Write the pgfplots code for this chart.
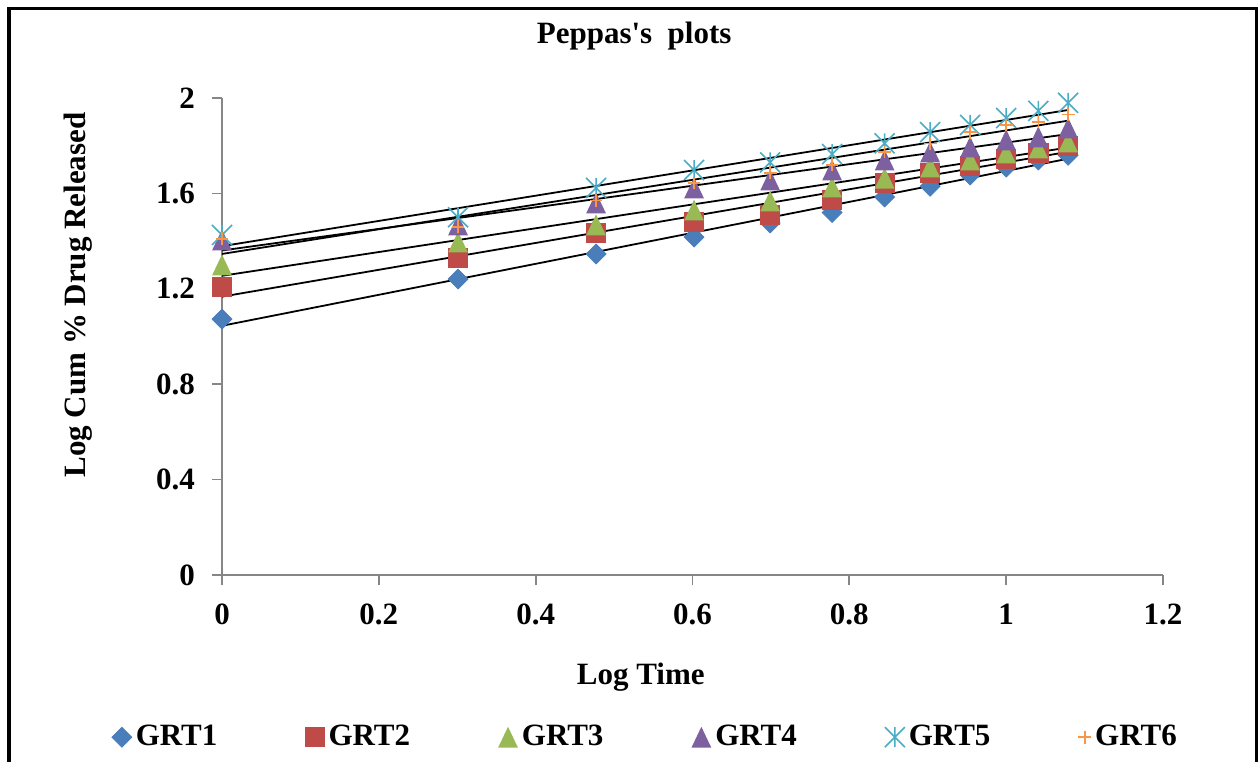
\documentclass[border=0pt]{standalone}
\usepackage{pgfplots}
\pgfplotsset{compat=1.18}
\usepackage{pgfplotstable}
\usepackage{fontspec}
\setmainfont{Liberation Serif}

\definecolor{c1}{HTML}{4A7EBB}
\definecolor{c2}{HTML}{BE4B48}
\definecolor{c3}{HTML}{98B954}
\definecolor{c4}{HTML}{7D60A0}
\definecolor{c5}{HTML}{4BACC6}
\definecolor{c6}{HTML}{F79646}
\definecolor{axgray}{HTML}{868686}

\pgfdeclareplotmark{xltri}{%
  \pgfpathmoveto{\pgfqpoint{0pt}{\pgfplotmarksize}}%
  \pgfpathlineto{\pgfqpoint{-0.95\pgfplotmarksize}{-\pgfplotmarksize}}%
  \pgfpathlineto{\pgfqpoint{0.95\pgfplotmarksize}{-\pgfplotmarksize}}%
  \pgfpathclose\pgfusepathqfill}
\pgfdeclareplotmark{xlstar}{%
  \pgfpathmoveto{\pgfqpoint{0pt}{\pgfplotmarksize}}%
  \pgfpathlineto{\pgfqpoint{0pt}{-\pgfplotmarksize}}%
  \pgfpathmoveto{\pgfqpoint{-\pgfplotmarksize}{\pgfplotmarksize}}%
  \pgfpathlineto{\pgfqpoint{\pgfplotmarksize}{-\pgfplotmarksize}}%
  \pgfpathmoveto{\pgfqpoint{-\pgfplotmarksize}{-\pgfplotmarksize}}%
  \pgfpathlineto{\pgfqpoint{\pgfplotmarksize}{\pgfplotmarksize}}%
  \pgfusepathqstroke}

\pgfplotstableread{
x g1 g2 g3 g4 g5 g6
0     1.073 1.207 1.300 1.405 1.426 1.410
0.301 1.241 1.329 1.396 1.468 1.500 1.460
0.477 1.346 1.434 1.468 1.560 1.623 1.570
0.602 1.417 1.480 1.530 1.623 1.698 1.644
0.699 1.476 1.510 1.568 1.656 1.730 1.686
0.778 1.520 1.572 1.627 1.698 1.765 1.720
0.845 1.585 1.644 1.664 1.740 1.810 1.774
0.903 1.630 1.686 1.711 1.774 1.857 1.810
0.954 1.677 1.715 1.740 1.795 1.887 1.857
1.000 1.710 1.744 1.769 1.824 1.916 1.887
1.041 1.740 1.770 1.790 1.837 1.946 1.900
1.079 1.760 1.799 1.816 1.874 1.980 1.930
}\data

\begin{document}
\begin{tikzpicture}[x=1pt,y=1pt]
\useasboundingbox (0,0) rectangle (629,381);
\fill[white] (0,0) rectangle (629,381);
\draw[line width=1.8pt] (4.5,0) -- (4.5,376.8) -- (628.6,376.8) -- (628.6,0);
\begin{axis}[
  at={(111pt,93.5pt)}, anchor=south west,
  scale only axis, width=470.5pt, height=238.5pt,
  xmin=0, xmax=1.2, ymin=0, ymax=2,
  xtick={0,0.2,0.4,0.6,0.8,1,1.2},
  ytick={0,0.4,0.8,1.2,1.6,2},
  axis x line*=bottom, axis y line*=left,
  axis line style={draw=axgray, line width=0.85pt, -},
  tick style={draw=axgray, line width=0.85pt},
  tick align=outside, major tick length=5pt,
  /pgf/number format/assume math mode=true,
  ticklabel style={font=\fontsize{15.5}{18}\selectfont\bfseries},
  xticklabel style={yshift=-6pt},
  yticklabel style={xshift=-5pt},
  title={Peppas\textquotesingle s\ \ plots},
  title style={font=\fontsize{15.5}{18}\selectfont\bfseries, at={(axis description cs:0.438,1.105)}, anchor=center},
  xlabel={Log Time},
  xlabel style={font=\fontsize{15.5}{18}\selectfont\bfseries, at={(axis description cs:0.445,-0.214)}, anchor=center},
  ylabel={Log Cum \% Drug Released},
  ylabel style={font=\fontsize{15.5}{18}\selectfont\bfseries, at={(axis description cs:-0.153,0.587)}, anchor=center},
  legend columns=6,
  legend style={draw=none, fill=none, at={(axis description cs:0.451,-0.34)}, anchor=center,
    font=\fontsize{15.5}{18}\selectfont\bfseries,
    /tikz/every even column/.append style={column sep=42pt},
    /tikz/every odd column/.append style={column sep=0pt}},
  legend image code/.code={\draw[#1] plot coordinates {(0.25cm,0cm)};},
]
\addplot[only marks, mark=square*, mark size=3.5pt, mark options={rotate=45, fill=c1, draw=c1}] table[x=x,y=g1] {\data};
\addlegendentry{GRT1}
\addplot[only marks, mark=square*, mark size=4.8pt, mark options={fill=c2, draw=c2}] table[x=x,y=g2] {\data};
\addlegendentry{GRT2}
\addplot[only marks, mark=xltri, mark size=5.2pt, mark options={fill=c3, draw=c3}] table[x=x,y=g3] {\data};
\addlegendentry{GRT3}
\addplot[only marks, mark=xltri, mark size=5.2pt, mark options={fill=c4, draw=c4}] table[x=x,y=g4] {\data};
\addlegendentry{GRT4}
\addplot[only marks, mark=xlstar, mark size=5pt, mark options={draw=c5, line width=0.8pt}] table[x=x,y=g5] {\data};
\addlegendentry{GRT5}
\addplot[only marks, mark=+, mark size=3.2pt, mark options={draw=c6, line width=0.8pt}] table[x=x,y=g6] {\data};
\addlegendentry{GRT6}
\addplot[black, line width=0.9pt, no marks, forget plot] table[x=x, y={create col/linear regression={y=g1}}] {\data};
\addplot[black, line width=0.9pt, no marks, forget plot] table[x=x, y={create col/linear regression={y=g2}}] {\data};
\addplot[black, line width=0.9pt, no marks, forget plot] table[x=x, y={create col/linear regression={y=g3}}] {\data};
\addplot[black, line width=0.9pt, no marks, forget plot] table[x=x, y={create col/linear regression={y=g4}}] {\data};
\addplot[black, line width=0.9pt, no marks, forget plot] table[x=x, y={create col/linear regression={y=g5}}] {\data};
\addplot[black, line width=0.9pt, no marks, forget plot] table[x=x, y={create col/linear regression={y=g6}}] {\data};
\end{axis}
\end{tikzpicture}
\end{document}
